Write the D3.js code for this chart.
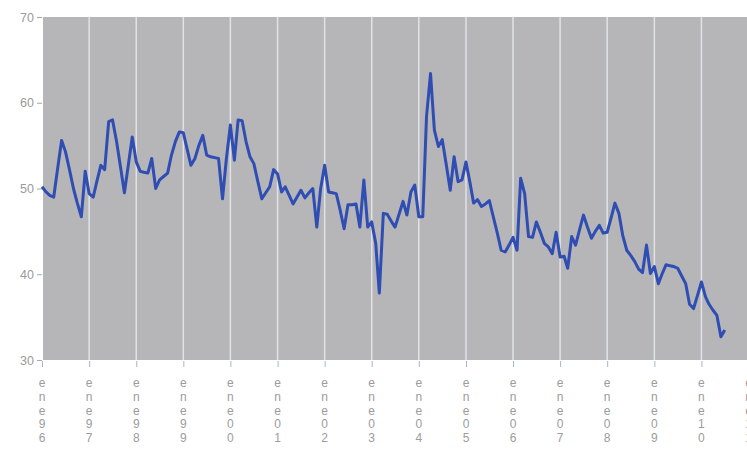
<!DOCTYPE html>
<html>
<head>
<meta charset="utf-8">
<script src="https://cdn.jsdelivr.net/npm/d3@7"></script>
<style>
  body { margin: 0; background: #fff; }
  svg { display: block; font-family: "Liberation Sans", Arial, sans-serif; }
</style>
</head>
<body>
<div id="chart"></div>
<script>
// Monthly series, starting January 1996
const startMonth = "1996-01";
const values = [
    50.2, 49.6, 49.2, 49.0, 52.3, 55.6, 54.3, 52.2, 50.0, 48.3, 46.7, 52.0,
    49.4, 49.0, 50.8, 52.7, 52.2, 57.8, 58.0, 55.5, 52.5, 49.5, 52.8, 56.0,
    53.1, 52.0, 51.9, 51.8, 53.5, 50.0, 51.0, 51.4, 51.8, 53.9, 55.5, 56.6,
    56.5, 54.5, 52.7, 53.5, 55.0, 56.2, 53.9, 53.7, 53.6, 53.5, 48.8, 53.5,
    57.4, 53.3, 58.0, 57.9, 55.5, 53.7, 52.9, 50.8, 48.8, 49.5, 50.2, 52.2,
    51.7, 49.6, 50.2, 49.2, 48.2, 49.0, 49.8, 48.9, 49.5, 50.0, 45.5, 50.0,
    52.7, 49.6, 49.5, 49.4, 47.5, 45.3, 48.1, 48.1, 48.2, 45.5, 51.0, 45.5,
    46.1, 43.6, 37.8, 47.1, 47.0, 46.2, 45.5, 47.0, 48.5, 46.9, 49.6, 50.4,
    46.7, 46.7, 58.4, 63.4, 56.8, 54.9, 55.7, 52.8, 49.8, 53.7, 50.8, 51.0,
    53.1, 50.7, 48.3, 48.7, 47.9, 48.2, 48.6, 46.7, 44.8, 42.8, 42.6, 43.4,
    44.3, 42.8, 51.2, 49.4, 44.4, 44.3, 46.1, 44.9, 43.6, 43.2, 42.4, 44.9,
    42.0, 42.1, 40.7, 44.4, 43.4, 45.2, 46.9, 45.5, 44.2, 45.0, 45.7, 44.8,
    44.9, 46.6, 48.3, 47.1, 44.5, 42.8, 42.2, 41.5, 40.6, 40.2, 43.4, 40.1,
    40.9, 38.9, 40.0, 41.1, 41.0, 40.9, 40.7, 39.8, 38.9, 36.5, 36.0, 37.5,
    39.1, 37.4, 36.5, 35.8, 35.2, 32.7, 33.5
];

// Tick labels (January of each year)
const tickYears = ["1996", "1997", "1998", "1999", "2000", "2001", "2002", "2003",
    "2004", "2005", "2006", "2007", "2008", "2009", "2010", "2011"];
const tickLabels = ["ene96", "ene97", "ene98", "ene99", "ene00", "ene01", "ene02", "ene03",
    "ene04", "ene05", "ene06", "ene07", "ene08", "ene09", "ene10", "ene11"];
const yTicks = [30, 40, 50, 60, 70];

const width = 747;
const height = 465;
const plot = { left: 43, right: 747, top: 17, bottom: 360 };

const parseMonth = d3.timeParse("%Y-%m");
const start = parseMonth(startMonth);
const data = values.map((v, i) => ({ date: d3.timeMonth.offset(start, i), value: v }));

const svg = d3.select("#chart")
    .append("svg")
    .attr("width", width)
    .attr("height", height);

const x = d3.scaleTime()
    .domain([new Date(1996, 0, 1), new Date(2011, 0, 1)])
    .range([42, 748.5]);

const y = d3.scaleLinear()
    .domain([30, 70])
    .range([plot.bottom, plot.top]);

// Plot background
svg.append("rect")
    .attr("x", plot.left)
    .attr("y", plot.top)
    .attr("width", plot.right - plot.left)
    .attr("height", plot.bottom - plot.top)
    .attr("fill", "#b6b6b8");

const tickDates = tickYears.map(d => new Date(+d, 0, 1));

// Vertical gridlines
svg.selectAll(".grid")
    .data(tickDates.slice(1))
    .enter()
    .append("line")
    .attr("class", "grid")
    .attr("x1", d => x(d))
    .attr("x2", d => x(d))
    .attr("y1", plot.top)
    .attr("y2", plot.bottom)
    .attr("stroke", "#dfe3e8")
    .attr("stroke-width", 1.5);

// Y axis
const yAxis = svg.append("g")
    .attr("transform", `translate(${plot.left - 1},0)`)
    .call(d3.axisLeft(y).tickValues(yTicks).tickSize(5).tickPadding(3));
yAxis.select(".domain").remove();
yAxis.selectAll("line").attr("stroke", "#a8a8a8");
yAxis.selectAll("text")
    .attr("fill", "#9a9a9a")
    .style("font-size", "12.5px");

// X axis ticks
const xAxis = svg.append("g")
    .attr("transform", `translate(0,${plot.bottom + 1})`)
    .call(d3.axisBottom(x).tickValues(tickDates).tickSize(6).tickFormat(""));
xAxis.select(".domain").remove();
xAxis.selectAll("line").attr("stroke", "#a9b7c8");

// Stacked x labels (last one runs off the right edge, as in the source)
const labels = svg.selectAll(".xlab")
    .data(tickDates)
    .enter()
    .append("text")
    .attr("class", "xlab")
    .attr("text-anchor", "middle")
    .attr("fill", "#9c9c9c")
    .style("font-size", "12px");

labels.each(function (d, i) {
    const t = d3.select(this);
    tickLabels[i].split("").forEach((ch, j) => {
        t.append("tspan")
            .attr("x", x(d))
            .attr("y", 387 + j * 13.8)
            .text(ch);
    });
});

// Line
const line = d3.line()
    .x(d => x(d.date))
    .y(d => y(d.value));

svg.append("path")
    .datum(data)
    .attr("fill", "none")
    .attr("stroke", "#2f4db3")
    .attr("stroke-width", 3)
    .attr("stroke-linejoin", "round")
    .attr("d", line);
</script>
</body>
</html>
